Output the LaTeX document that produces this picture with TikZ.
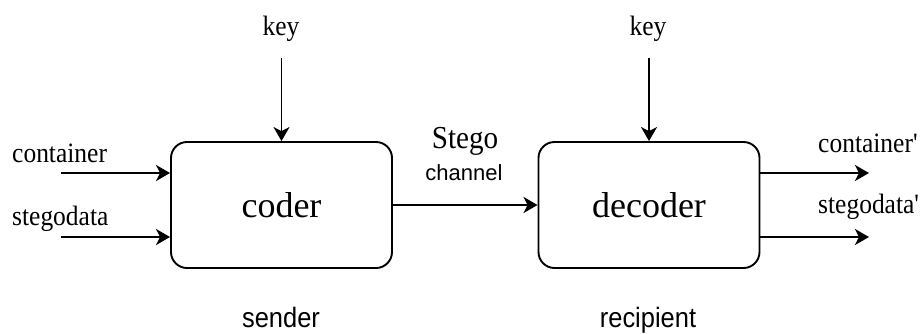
\documentclass[tikz,border=0pt]{standalone}
\usepackage{fontspec}
\setmainfont{Liberation Serif}
\setsansfont{Liberation Sans}
\newfontfamily\narrowserif[FakeStretch=0.91]{Liberation Serif}
\newfontfamily\narrowsans[FakeStretch=0.91]{Liberation Sans}
\usetikzlibrary{arrows.meta}
\tikzset{
  block/.style={draw, line width=1.9pt, rounded corners=16pt,
    minimum width=221pt, minimum height=126pt, inner sep=0pt,
    font=\fontsize{36}{40}\selectfont},
  lbl/.style={inner sep=0pt, font=\narrowserif\fontsize{28}{30}\selectfont},
  sanslbl/.style={inner sep=0pt, font=\narrowsans\fontsize{28}{30}\selectfont},
  flow/.style={line width=1.9pt, -{Stealth[length=14pt,width=16pt,inset=4pt]}},
}
\begin{document}
\begin{tikzpicture}[x=1pt,y=-1pt]
  \useasboundingbox (0,0) rectangle (923,333);

  % processing blocks
  \node[block] (coder)   at (281.5,205) {coder};
  \node[block] (decoder) at (649,205)   {decoder};

  % sender side inputs
  \node[lbl, anchor=base] (key1) at (281,35) {key};
  \coordinate (k1) at (281.5,58);
  \draw[flow] (k1) -- (coder.north);

  \node[lbl, anchor=base west] (cont) at (12,162) {container};
  \node[lbl, anchor=base west] (sdata) at (12,225) {stegodata};
  \coordinate (c1) at (61,173);
  \coordinate (s1) at (61,237);
  \draw[flow] (c1) -- (c1 -| coder.west);
  \draw[flow] (s1) -- (s1 -| coder.west);

  % channel between the blocks
  \draw[flow] (coder.east) -- (decoder.west);
  \node[lbl, anchor=base, font=\narrowserif\fontsize{32}{34}\selectfont] (stego) at (465,148) {Stego};
  \node[sanslbl, anchor=base, font=\sffamily\fontsize{22}{24}\selectfont] (chan) at (464,180) {channel};

  % recipient side
  \node[lbl, anchor=base] (key2) at (648,35) {key};
  \coordinate (k2) at (649,58);
  \draw[flow] (k2) -- (decoder.north);

  \coordinate (c2) at (869,173);
  \coordinate (s2) at (869,237);
  \draw[flow] (decoder.east |- c2) -- (c2);
  \draw[flow] (decoder.east |- s2) -- (s2);
  \node[lbl, anchor=base west] (cont2) at (818,152) {container\textquotesingle};
  \node[lbl, anchor=base west] (sdata2) at (818,213) {stegodata\textquotesingle};

  % roles
  \node[sanslbl, anchor=base] (sender) at (281,327) {sender};
  \node[sanslbl, anchor=base] (recip) at (648,327) {recipient};
\end{tikzpicture}
\end{document}
